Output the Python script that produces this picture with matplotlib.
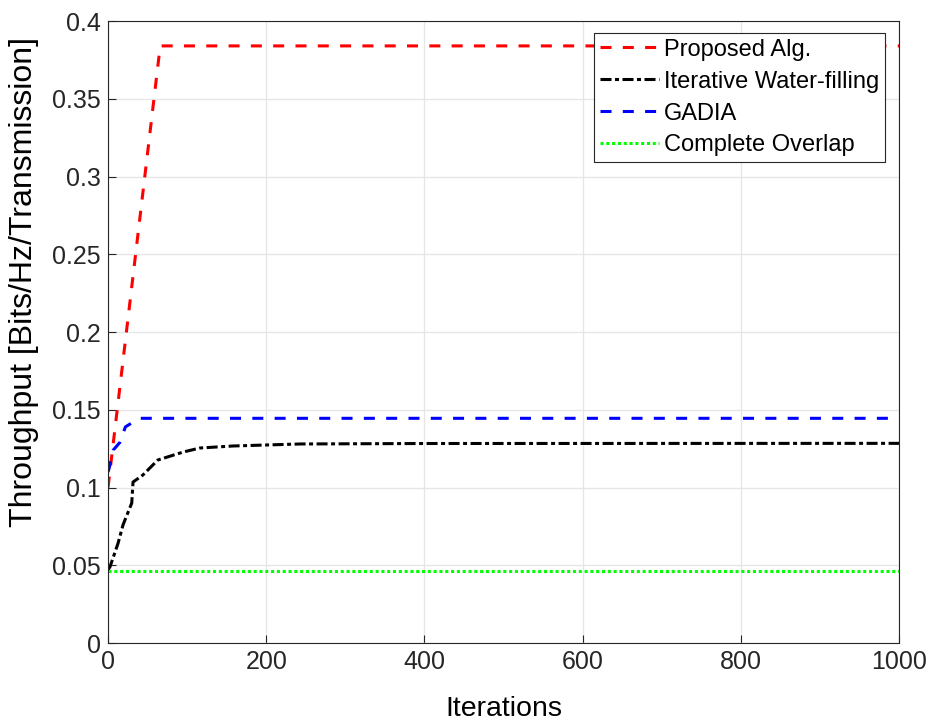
import matplotlib.pyplot as plt
import numpy as np

plt.rcParams['font.family'] = ['Liberation Sans', 'DejaVu Sans']

# iterations / throughput
prop_x = [0, 66, 1000]
prop_y = [0.100, 0.384, 0.384]

iwf_x = [0, 2.5, 12.6, 19, 30, 31.6, 44, 63, 95, 116, 158, 243, 400, 1000]
iwf_y = [0.047, 0.049, 0.064, 0.076, 0.090, 0.1035, 0.108, 0.1177, 0.1228, 0.1254, 0.1267, 0.128, 0.1283, 0.1284]

gadia_x = [0, 1.5, 6.5, 15, 22, 30, 40, 1000]
gadia_y = [0.110, 0.1125, 0.124, 0.129, 0.139, 0.1415, 0.1445, 0.1445]

overlap_x = [0, 1000]
overlap_y = [0.0463, 0.0463]

fig = plt.figure(figsize=(9.32, 7.25), dpi=100)
ax = fig.add_axes([0.1159, 0.1131, 0.8487, 0.8579])

lw = 2.2
ax.plot(prop_x, prop_y, color='red', ls=(0, (3.6, 3.7)), lw=lw, label='Proposed Alg.')
ax.plot(iwf_x, iwf_y, color='black', ls=(0, (3.6, 1.15, 1.3, 1.15)), lw=lw, label='Iterative Water-filling')
ax.plot(gadia_x, gadia_y, color='blue', ls=(0, (3.6, 3.7)), lw=lw, label='GADIA')
ax.plot(overlap_x, overlap_y, color='#00ff00', ls=(0, (1.0, 0.9)), lw=lw, label='Complete Overlap')

ax.set_xlim(0, 1000)
ax.set_ylim(0, 0.4)
ax.set_xticks(np.arange(0, 1001, 200))
ax.set_yticks(np.arange(0, 0.401, 0.05))
ax.set_yticklabels(['0', '0.05', '0.1', '0.15', '0.2', '0.25', '0.3', '0.35', '0.4'])
ax.tick_params(direction='in', labelsize=18, length=6, color='#262626', labelcolor='#262626', pad=5)
ax.grid(True, color='#e6e6e6', lw=1)
ax.set_axisbelow(True)
for s in ax.spines.values():
    s.set_color('#262626')
    s.set_linewidth(0.8)

ax.set_xlabel('Iterations', fontsize=20.5, labelpad=16)
ax.set_ylabel('Throughput [Bits/Hz/Transmission]', fontsize=23)
ax.yaxis.set_label_coords(-0.087, 0.58)

leg = ax.legend(loc='upper right', bbox_to_anchor=(0.982, 0.981), fontsize=17, fancybox=False,
                framealpha=1, edgecolor='#262626', borderpad=0.25, labelspacing=0.42,
                handlelength=2.5, handletextpad=0.2, borderaxespad=0)
leg.get_frame().set_linewidth(0.8)

fig.savefig('out.png', dpi=100)
